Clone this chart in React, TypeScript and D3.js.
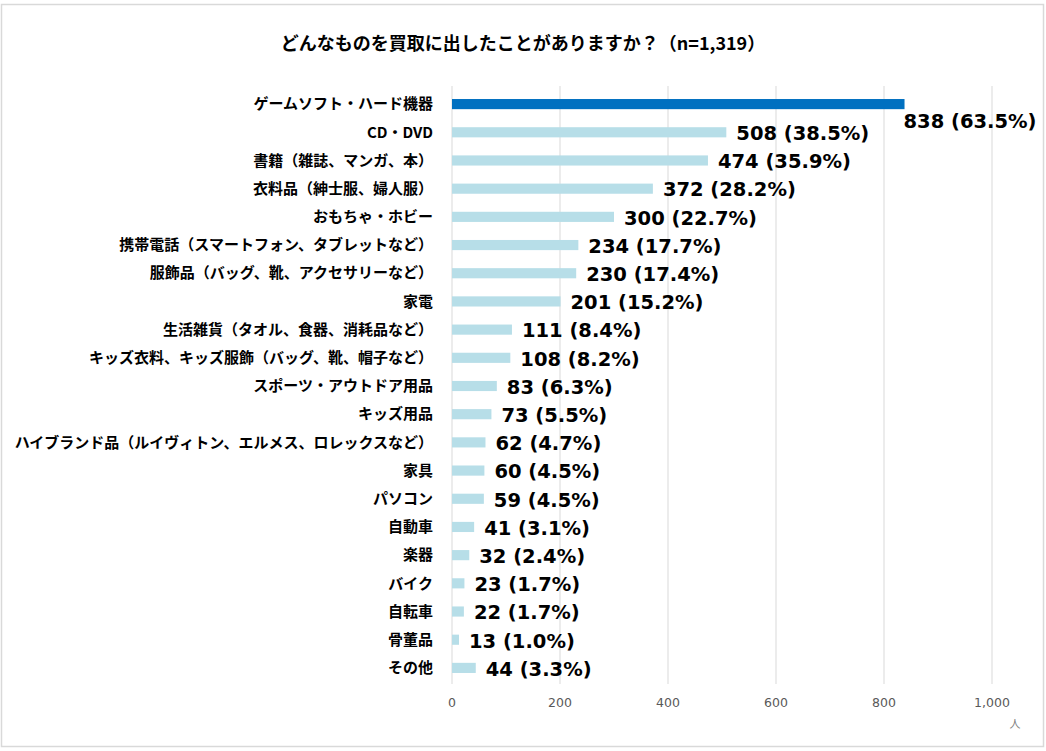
import React, {useRef, useEffect} from "react";
import * as d3 from "d3";

// Survey: items people have sold to buyback shops (n=1,319)
const categories = [
  "ゲームソフト・ハード機器",
  "CD・DVD",
  "書籍（雑誌、マンガ、本）",
  "衣料品（紳士服、婦人服）",
  "おもちゃ・ホビー",
  "携帯電話（スマートフォン、タブレットなど）",
  "服飾品（バッグ、靴、アクセサリーなど）",
  "家電",
  "生活雑貨（タオル、食器、消耗品など）",
  "キッズ衣料、キッズ服飾（バッグ、靴、帽子など）",
  "スポーツ・アウトドア用品",
  "キッズ用品",
  "ハイブランド品（ルイヴィトン、エルメス、ロレックスなど）",
  "家具",
  "パソコン",
  "自動車",
  "楽器",
  "バイク",
  "自転車",
  "骨董品",
  "その他",
];
const counts = [838, 508, 474, 372, 300, 234, 230, 201, 111, 108, 83, 73, 62, 60, 59, 41, 32, 23, 22, 13, 44];
const percents = [63.5, 38.5, 35.9, 28.2, 22.7, 17.7, 17.4, 15.2, 8.4, 8.2, 6.3, 5.5, 4.7, 4.5, 4.5, 3.1, 2.4, 1.7, 1.7, 1.0, 3.3];
const xTicks = [0, 200, 400, 600, 800, 1000];

const title = "どんなものを買取に出したことがありますか？（n=1,319）";
const unit = "人";

const W = 1046;
const H = 751;
const jpFont = "'Noto Sans CJK JP', 'Noto Sans', sans-serif";
const numFont = "'DejaVu Sans', Verdana, sans-serif";

export default function App() {
  const svgRef = useRef<SVGSVGElement>(null);

  useEffect(() => {
    if (!svgRef.current) return;
    const svg = d3.select(svgRef.current);
    svg.selectAll("*").remove();

    const x = d3.scaleLinear().domain([0, 1000]).range([452, 992]);
    const y = d3
      .scaleBand()
      .domain(categories)
      .range([90, 682])
      .paddingInner(0.64)
      .paddingOuter(0.32);

    // outer frame
    svg
      .append("rect")
      .attr("x", 1.5)
      .attr("y", 4.5)
      .attr("width", 1042)
      .attr("height", 742)
      .attr("fill", "#fff")
      .attr("stroke", "#d9d9d9")
      .attr("stroke-width", 1.5);

    // title
    svg
      .append("text")
      .attr("x", 523)
      .attr("y", 44)
      .attr("dy", "0.35em")
      .attr("text-anchor", "middle")
      .style("font-family", jpFont)
      .style("font-weight", "bold")
      .style("font-size", "18px")
      .style("fill", "#000")
      .text(title);

    // vertical grid
    svg
      .selectAll(".grid")
      .data(xTicks)
      .join("line")
      .attr("class", "grid")
      .attr("x1", (d) => x(d))
      .attr("x2", (d) => x(d))
      .attr("y1", 86)
      .attr("y2", 684)
      .attr("stroke", "#d9d9d9")
      .attr("stroke-width", 1);

    // x tick labels
    svg
      .selectAll(".tick-label")
      .data(xTicks)
      .join("text")
      .attr("class", "tick-label")
      .attr("x", (d) => x(d))
      .attr("y", 703)
      .attr("dy", "0.35em")
      .attr("text-anchor", "middle")
      .style("font-family", numFont)
      .style("font-size", "12.5px")
      .style("fill", "#595959")
      .text((d) => d3.format(",")(d));

    svg
      .append("text")
      .attr("x", 1015)
      .attr("y", 724)
      .attr("dy", "0.35em")
      .attr("text-anchor", "middle")
      .style("font-family", jpFont)
      .style("font-size", "11px")
      .style("fill", "#808080")
      .text(unit);

    // bars
    svg
      .selectAll(".bar")
      .data(categories)
      .join("rect")
      .attr("class", "bar")
      .attr("x", x(0))
      .attr("y", (d) => y(d))
      .attr("width", (d, i) => x(counts[i]) - x(0))
      .attr("height", y.bandwidth())
      .attr("fill", (d, i) => (i === 0 ? "#0070c0" : "#b7dee8"));

    // category labels
    svg
      .selectAll(".cat")
      .data(categories)
      .join("text")
      .attr("class", "cat")
      .attr("x", 433)
      .attr("y", (d) => y(d) + y.bandwidth() / 2)
      .attr("dy", "0.35em")
      .attr("text-anchor", "end")
      .style("font-family", jpFont)
      .style("font-weight", "bold")
      .style("font-size", "15px")
      .style("fill", "#000")
      .text((d) => d);

    // value labels (the top one sits below its bar end)
    svg
      .selectAll(".val")
      .data(categories)
      .join("text")
      .attr("class", "val")
      .attr("x", (d, i) => (i === 0 ? x(counts[i]) - 1 : x(counts[i]) + 10))
      .attr("y", (d, i) => y(d) + y.bandwidth() / 2 + (i === 0 ? 17 : 1))
      .attr("dy", "0.35em")
      .style("font-family", numFont)
      .style("font-weight", "bold")
      .style("font-size", "19.5px")
      .style("fill", "#000")
      .text((d, i) => `${counts[i]} (${percents[i].toFixed(1)}%)`);
  }, []);

  return (
    <svg
      ref={svgRef}
      width={W}
      height={H}
      style={{position: "absolute", left: 0, top: 0, background: "#fff"}}
    />
  );
}
